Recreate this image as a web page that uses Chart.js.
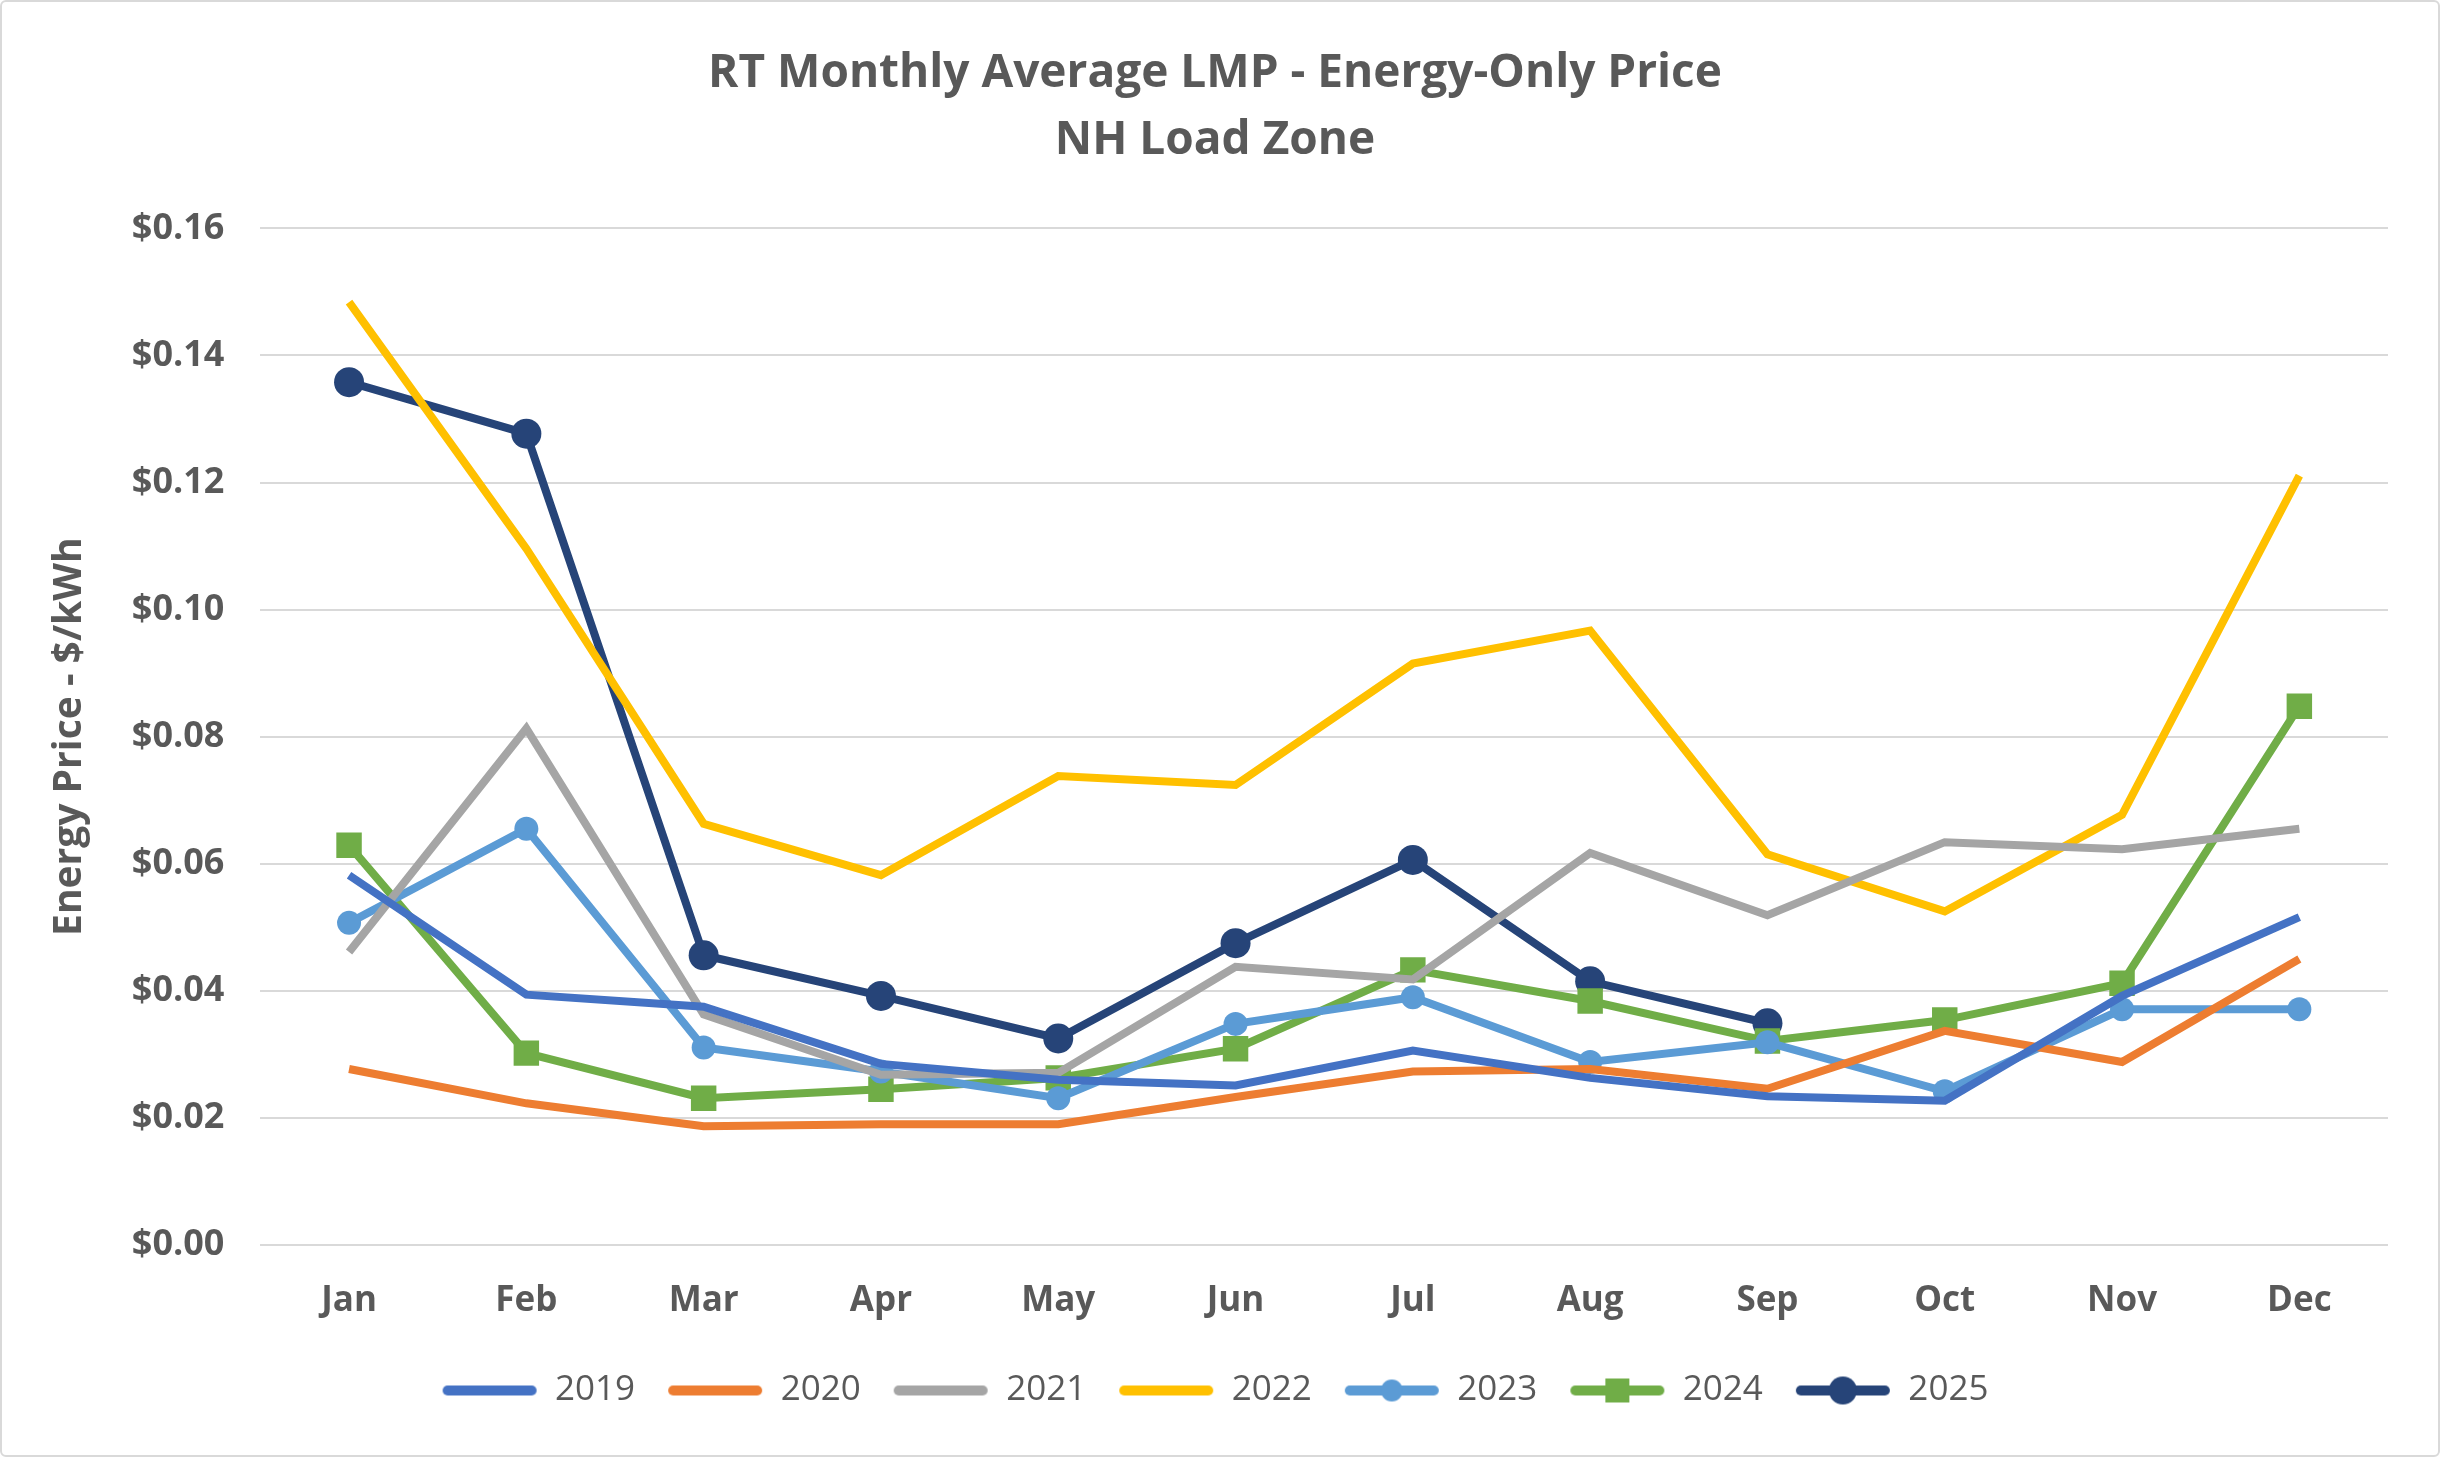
<!DOCTYPE html>
<html>
<head>
<meta charset="utf-8">
<script src="https://cdn.jsdelivr.net/npm/chart.js@4/dist/chart.umd.min.js"></script>
<style>
  html, body { margin: 0; padding: 0; background: #fff; }
  #wrap { width: 2436px; height: 1453px; border: 2px solid #d9d9d9; border-radius: 6px; }
  canvas { display: block; }
</style>
</head>
<body>
<div id="wrap"><canvas id="lmpChart" width="2436" height="1453"></canvas></div>
<script>
const months = ['Jan', 'Feb', 'Mar', 'Apr', 'May', 'Jun', 'Jul', 'Aug', 'Sep', 'Oct', 'Nov', 'Dec'];
const yTicks = [0, 0.02, 0.04, 0.06, 0.08, 0.10, 0.12, 0.14, 0.16];

const y2019 = [0.0582, 0.0394, 0.0375, 0.0285, 0.0260, 0.0251, 0.0306, 0.0263, 0.0234, 0.0227, 0.0392, 0.0516];
const y2020 = [0.0277, 0.0223, 0.0187, 0.0190, 0.0190, 0.0233, 0.0273, 0.0277, 0.0246, 0.0337, 0.0288, 0.0450];
const y2021 = [0.0461, 0.0813, 0.0363, 0.0268, 0.0271, 0.0438, 0.0418, 0.0617, 0.0519, 0.0634, 0.0623, 0.0655];
const y2022 = [0.1484, 0.1096, 0.0663, 0.0582, 0.0738, 0.0724, 0.0915, 0.0967, 0.0615, 0.0525, 0.0677, 0.1211];
const y2023 = [0.0507, 0.0655, 0.0311, 0.0273, 0.0231, 0.0348, 0.0390, 0.0288, 0.0319, 0.0242, 0.0371, 0.0371];
const y2024 = [0.0629, 0.0302, 0.0231, 0.0245, 0.0263, 0.0309, 0.0433, 0.0384, 0.0321, 0.0354, 0.0412, 0.0848];
const y2025 = [0.1358, 0.1277, 0.0456, 0.0392, 0.0325, 0.0475, 0.0606, 0.0415, 0.0349, null, null, null];

const textGray = '#595959';
const font = '"Open Sans", "Noto Sans", sans-serif';

// legend swatch: short thick line with an optional marker in the middle
const swatch = (color, marker, size) => {
    const c = document.createElement('canvas');
    c.width = 96;
    c.height = 32;
    const g = c.getContext('2d');
    g.strokeStyle = color;
    g.lineWidth = 10;
    g.lineCap = 'round';
    g.beginPath();
    g.moveTo(6, 16);
    g.lineTo(90, 16);
    g.stroke();
    g.fillStyle = color;
    if (marker === 'circle') {
        g.beginPath();
        g.arc(48, 16, size, 0, Math.PI * 2);
        g.fill();
    } else if (marker === 'rect') {
        g.fillRect(48 - size, 16 - size, size * 2, size * 2);
    }
    return c;
};

const series = (label, data, color, marker, radius, legendSize) => ({
    label,
    data,
    borderColor: color,
    backgroundColor: color,
    borderWidth: 8,
    pointStyle: marker || 'circle',
    pointRadius: marker ? radius : 0,
    pointHoverRadius: marker ? radius : 0,
    pointBorderWidth: 0,
    tension: 0,
    spanGaps: false,
    legendImg: swatch(color, marker, legendSize || 0)
});

const datasets = [
    series('2019', y2019, '#4472C4'),
    series('2020', y2020, '#ED7D31'),
    series('2021', y2021, '#A5A5A5'),
    series('2022', y2022, '#FFC000'),
    series('2023', y2023, '#5B9BD5', 'circle', 12, 11),
    series('2024', y2024, '#70AD47', 'rect', 18, 12),
    series('2025', y2025, '#264478', 'circle', 15, 14)
];

new Chart(document.getElementById('lmpChart').getContext('2d'), {
    type: 'line',
    data: { labels: months, datasets },
    options: {
        responsive: false,
        animation: false,
        layout: { padding: { left: 40, right: 50, top: 10, bottom: 37 } },
        plugins: {
            title: {
                display: true,
                text: ['RT Monthly Average LMP - Energy-Only Price', 'NH Load Zone'],
                color: textGray,
                font: { family: font, size: 46, weight: 'bold', lineHeight: 1.45 },
                padding: { top: 29, bottom: 54 }
            },
            legend: {
                position: 'bottom',
                labels: {
                    color: textGray,
                    font: { family: font, size: 35 },
                    usePointStyle: true,
                    pointStyleWidth: 96,
                    padding: 32,
                    generateLabels: (chart) => chart.data.datasets.map((ds, i) => ({
                        text: ds.label,
                        pointStyle: ds.legendImg,
                        fillStyle: ds.borderColor,
                        strokeStyle: ds.borderColor,
                        fontColor: textGray,
                        lineWidth: 0,
                        hidden: false,
                        datasetIndex: i
                    }))
                }
            },
            tooltip: { enabled: false }
        },
        scales: {
            x: {
                offset: true,
                grid: { display: false },
                border: { display: false },
                afterFit: (scale) => { scale.height -= 8; },
                ticks: {
                    color: textGray,
                    font: { family: font, size: 35, weight: 'bold' },
                    padding: 27
                }
            },
            y: {
                min: 0,
                max: 0.16,
                afterBuildTicks: (axis) => { axis.ticks = yTicks.map(v => ({ value: v })); },
                grid: { color: '#d9d9d9', lineWidth: 2, drawTicks: false },
                border: { display: false },
                ticks: {
                    color: textGray,
                    font: { family: font, size: 36, weight: 'bold' },
                    padding: 36,
                    callback: (v) => '$' + Number(v).toFixed(2)
                },
                title: {
                    display: true,
                    text: 'Energy Price - $/kWh',
                    color: textGray,
                    font: { family: font, size: 39, weight: 'bold' },
                    padding: { bottom: 3 }
                }
            }
        }
    }
});
</script>
</body>
</html>
